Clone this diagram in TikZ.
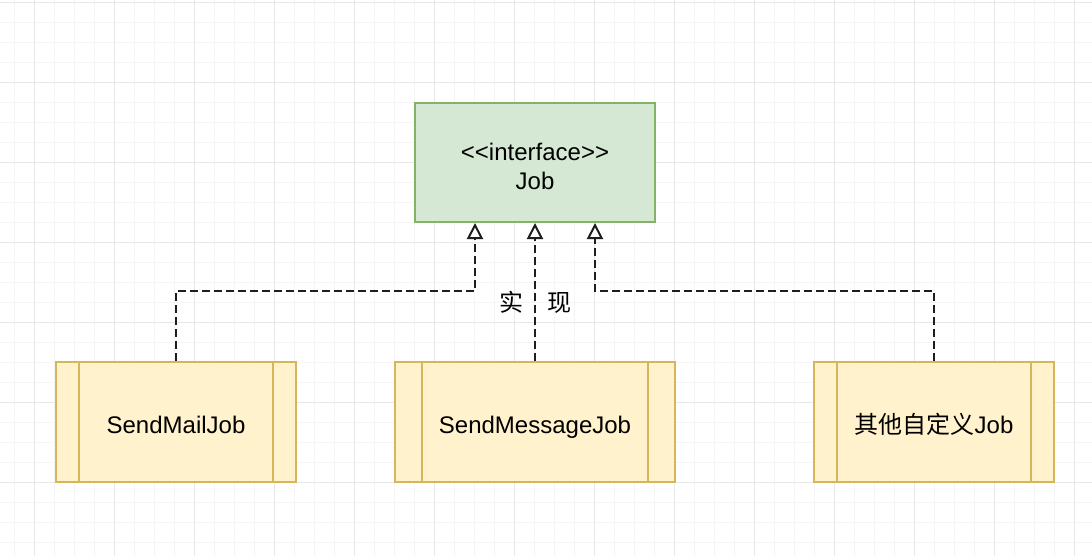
\documentclass[tikz,border=0pt]{standalone}
\usepackage{fontspec}
\setmainfont{Liberation Sans}
\newfontfamily\cjk{Noto Sans CJK SC}
\usetikzlibrary{arrows.meta}
\definecolor{gfill}{HTML}{D5E8D4}
\definecolor{gline}{HTML}{82B366}
\definecolor{yfill}{HTML}{FFF2CC}
\definecolor{yline}{HTML}{D6B656}
\definecolor{gridminor}{HTML}{F5F5F5}
\definecolor{gridmajor}{HTML}{E8E8E8}
\definecolor{dep}{HTML}{1E1E1E}
\tikzset{
  minorline/.style={gridminor, line width=1pt},
  majorline/.style={gridmajor, line width=1pt},
  iface/.style={draw=gline, fill=gfill, line width=2pt, minimum width=240pt, minimum height=119pt, inner sep=0pt, font=\fontsize{24}{28.5}\selectfont},
  proc/.style={draw=yline, fill=yfill, line width=2pt, minimum width=#1, minimum height=120pt, inner sep=0pt, text height=22pt, text depth=0pt, font=\fontsize{24}{29}\selectfont},
  procbar/.style={draw=yline, line width=2pt},
  deparrow/.style={draw=dep, line width=2pt, dash pattern=on 8pt off 4pt, -{Triangle[open, length=16pt, width=16pt, fill=white]}},
  lbl/.style={font=\cjk\fontsize{24}{28}\selectfont, inner sep=0pt}
}
\begin{document}
\begin{tikzpicture}[x=1pt, y=-1pt]
\useasboundingbox (0,0) rectangle (1092,556);
\fill[white] (0,0) rectangle (1092,556);
% grid
\foreach \x in {14,34,...,1094} \draw[minorline] (\x,0) -- (\x,556);
\foreach \y in {2.5,22.5,...,560} \draw[minorline] (0,\y) -- (1092,\y);
\foreach \x in {34,114,...,1094} \draw[majorline] (\x,0) -- (\x,556);
\foreach \y in {2.5,82.5,...,560} \draw[majorline] (0,\y) -- (1092,\y);

% interface
\node[iface] (job) at (535,162.5) {\raisebox{-13pt}[0pt][0pt]{\begin{tabular}{@{}c@{}}{<}{<}interface{>}{>}\\Job\end{tabular}}};

% implementing classes
\node[proc=240pt] (mail) at (176,422) {SendMailJob};
\draw[procbar] ([xshift=24pt]mail.north west) -- ([xshift=24pt]mail.south west);
\draw[procbar] ([xshift=-24pt]mail.north east) -- ([xshift=-24pt]mail.south east);

\node[proc=280pt] (msg) at (535,422) {SendMessageJob};
\draw[procbar] ([xshift=28pt]msg.north west) -- ([xshift=28pt]msg.south west);
\draw[procbar] ([xshift=-28pt]msg.north east) -- ([xshift=-28pt]msg.south east);

\node[proc=240pt] (other) at (934,422) {{\cjk 其他自定义}Job};
\draw[procbar] ([xshift=24pt]other.north west) -- ([xshift=24pt]other.south west);
\draw[procbar] ([xshift=-24pt]other.north east) -- ([xshift=-24pt]other.south east);

% connectors
\draw[deparrow] (mail.north) -- ++(0,-70) -| ([xshift=-60pt]job.south);
\draw[deparrow] (msg.north) -- (job.south);
\draw[deparrow] (other.north) -- ++(0,-70) -| ([xshift=60pt]job.south);

\node[lbl] (impl) at (535,302.5) {实\hspace{24pt}现};
\end{tikzpicture}
\end{document}
